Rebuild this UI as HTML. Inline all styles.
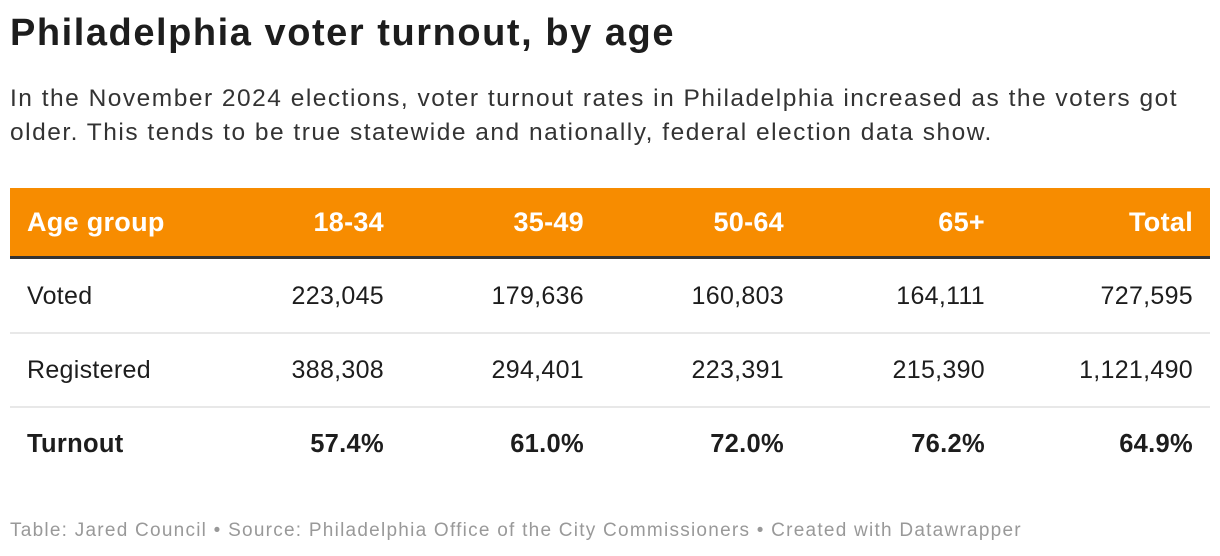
<!DOCTYPE html>
<html><head><meta charset="utf-8"><style>
body{margin:0;width:1220px;height:556px;background:#fff;font-family:"Liberation Sans",sans-serif;color:#1d1d1d;position:relative;overflow:hidden}
.a{position:absolute;white-space:nowrap}
h1{position:absolute;left:10px;top:12px;margin:0;font-size:38px;font-weight:bold;color:#1d1d1d;letter-spacing:1.55px}
.sub{left:10px;top:82px;font-size:24.5px;line-height:34px;color:#333;letter-spacing:1.5px}
.band{position:absolute;left:10px;top:188px;width:1200px;height:68px;background:#f78c00}
.dk{position:absolute;left:10px;top:256px;width:1200px;height:3px;background:#333}
.ln{position:absolute;left:10px;width:1200px;height:2px;background:#e8e8e8}
.c{font-size:25px;line-height:30px;letter-spacing:0.3px}
.h{color:#fff;font-weight:bold;font-size:27px}
.r{text-align:right}
.b{font-weight:bold;font-size:25.5px}
.ft{left:10px;top:520px;font-size:19px;color:#999;letter-spacing:1.25px}
</style></head><body>
<h1>Philadelphia voter turnout, by age</h1>
<div class="a sub">In the November 2024 elections, voter turnout rates in Philadelphia increased as the voters got<br>older. This tends to be true statewide and nationally, federal election data show.</div>
<div class="band"></div>
<div class="dk"></div>
<div class="ln" style="top:332px"></div>
<div class="ln" style="top:406px"></div>
<div id="t"></div>
<div class="a ft">Table: Jared Council • Source: Philadelphia Office of the City Commissioners • Created with Datawrapper</div>
<script>
const headers=["Age group","18-34","35-49","50-64","65+","Total"];
const voted=["Voted","223,045","179,636","160,803","164,111","727,595"];
const registered=["Registered","388,308","294,401","223,391","215,390","1,121,490"];
const turnout=["Turnout","57.4%","61.0%","72.0%","76.2%","64.9%"];
const rights=[384,584,784,985,1193];
const t=document.getElementById('t');
function row(vals,y,cls,name){
  vals.forEach((v,i)=>{
    const d=document.createElement('div');
    d.className='a c '+cls+(i?' r':'');
    d.textContent=v;
    
    
    if(i===0){d.style.left='27px';}
    else{d.style.right=(1220-rights[i-1])+'px';}
    d.style.top=(y-15)+'px';
    t.appendChild(d);
  });
}
row(headers,222,'h','header');
row(voted,296,'','voted');
row(registered,370,'','registered');
row(turnout,444,'b','turnout');
</script>
</body></html>
